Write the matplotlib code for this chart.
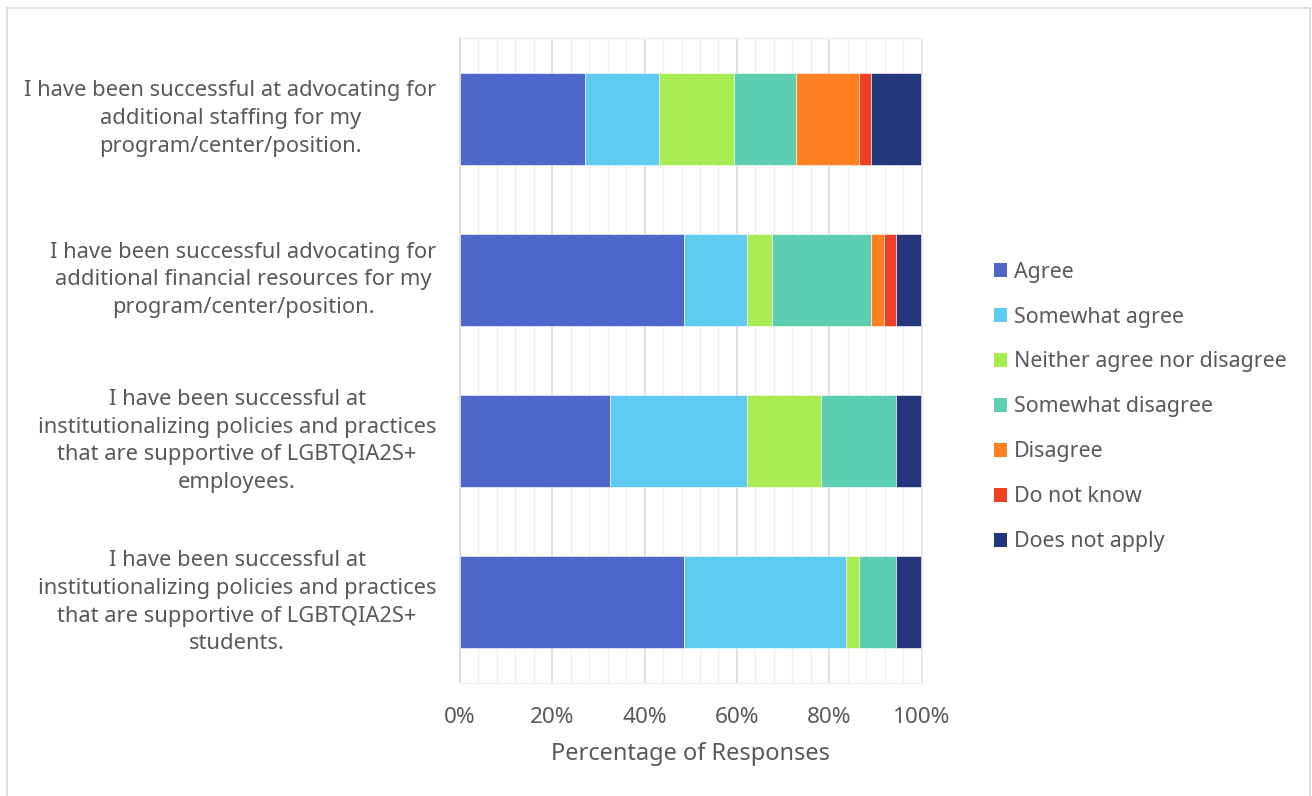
import matplotlib
matplotlib.use("Agg")
import matplotlib.pyplot as plt
from matplotlib.patches import Rectangle, Patch
from matplotlib.ticker import MultipleLocator, PercentFormatter

plt.rcParams['font.family'] = ['Noto Sans', 'DejaVu Sans']

statements = [
    "I have been successful at advocating for\nadditional staffing for my\nprogram/center/position.",
    "I have been successful advocating for\nadditional financial resources for my\nprogram/center/position.",
    "I have been successful at\ninstitutionalizing policies and practices\nthat are supportive of LGBTQIA2S+\nemployees.",
    "I have been successful at\ninstitutionalizing policies and practices\nthat are supportive of LGBTQIA2S+\nstudents.",
]

responses = ["Agree", "Somewhat agree", "Neither agree nor disagree",
             "Somewhat disagree", "Disagree", "Do not know", "Does not apply"]

# Percentage of responses per statement (same order as `statements`)
agree             = [27.0, 48.6, 32.4, 48.6]
somewhat_agree    = [16.2, 13.5, 29.7, 35.1]
neither           = [16.2,  5.4, 16.2,  2.7]
somewhat_disagree = [13.5, 21.6, 16.2,  8.1]
disagree          = [13.5,  2.7,  0.0,  0.0]
do_not_know       = [ 2.7,  2.7,  0.0,  0.0]
does_not_apply    = [10.8,  5.4,  5.4,  5.4]

series = [agree, somewhat_agree, neither, somewhat_disagree,
          disagree, do_not_know, does_not_apply]
colors = ["#4F67C8", "#5FCBF2", "#A9EB52", "#5DCEB2",
          "#FF8021", "#EE4124", "#25377C"]

text_color = "#595959"

fig = plt.figure(figsize=(13.12, 7.96), dpi=100)
ax = fig.add_axes([460 / 1312, 1 - 683 / 796, 461.5 / 1312, 645 / 796])

# chart frame
fig.patches.append(Rectangle((7 / 1312, -0.02), 1303 / 1312, 1 - 8 / 796 + 0.02,
                             transform=fig.transFigure, fill=False,
                             edgecolor="#D9D9D9", linewidth=1.2, zorder=0))

ypos = list(range(len(statements)))
left = [0.0] * len(statements)
for vals, col, name in zip(series, colors, responses):
    ax.barh(ypos, vals, left=left, height=0.57, color=col,
            edgecolor="white", linewidth=0.4, label=name, zorder=3)
    left = [l + v for l, v in zip(left, vals)]

ax.set_xlim(0, 100)
ax.set_ylim(len(statements) - 0.5, -0.5)
ax.set_yticks(ypos)
ax.set_yticklabels(statements, multialignment="center", linespacing=1.42)
for lbl in ax.get_yticklabels():
    lbl.set_verticalalignment("center")
ax.tick_params(axis="y", length=0, pad=17, labelsize=15.8, labelcolor=text_color)
ax.tick_params(axis="x", which="both", length=0, pad=17, labelsize=16.2,
               labelcolor=text_color)

ax.xaxis.set_major_locator(MultipleLocator(20))
ax.xaxis.set_minor_locator(MultipleLocator(4))
ax.xaxis.set_major_formatter(PercentFormatter(decimals=0))
ax.grid(axis="x", which="major", color="#D9D9D9", linewidth=1.2, zorder=0)
ax.grid(axis="x", which="minor", color="#F0F0F0", linewidth=1.0, zorder=0)
ax.set_axisbelow(True)

for side in ["top", "bottom", "right"]:
    ax.spines[side].set_color("#F0F0F0")
    ax.spines[side].set_linewidth(1.0)
ax.spines["left"].set_color("#D9D9D9")
ax.spines["left"].set_linewidth(1.2)

ax.set_xlabel("Percentage of Responses", fontsize=17, color=text_color,
              labelpad=10)

handles = [Patch(facecolor=c, edgecolor="none") for c in colors]
fig.legend(handles, responses, loc="upper left",
           bbox_to_anchor=(985 / 1312, 1 - 253 / 796),
           frameon=False, fontsize=15.4, labelcolor=text_color,
           handlelength=0.62, handleheight=0.62, handletextpad=0.35,
           labelspacing=1.12, borderaxespad=0)

fig.savefig("out.png", dpi=100, facecolor="white")
